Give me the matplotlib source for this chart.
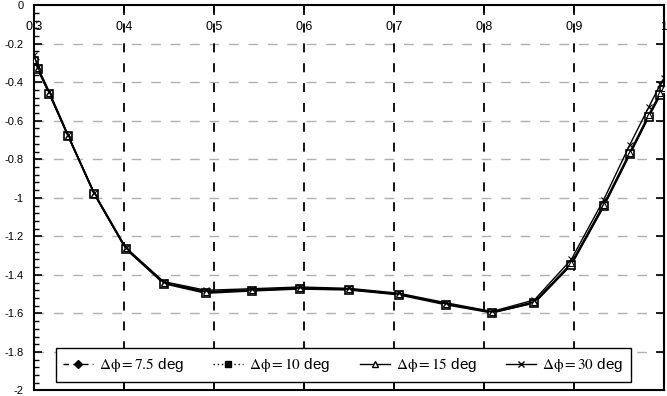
import numpy as np
import matplotlib
matplotlib.use('Agg')
import matplotlib.pyplot as plt
from matplotlib.lines import Line2D
from matplotlib.ticker import MultipleLocator

plt.rcParams['font.family'] = ['Liberation Sans', 'DejaVu Sans']
plt.rcParams['mathtext.fontset'] = 'stix'

# chordwise stations
x = [0.300, 0.304, 0.317, 0.338, 0.367, 0.402, 0.444, 0.491, 0.542, 0.595,
     0.650, 0.705, 0.758, 0.809, 0.856, 0.897, 0.933, 0.962, 0.983, 0.996, 1.000]

# one curve per angular step
y_75 = [-0.29, -0.33, -0.46, -0.68, -0.98, -1.265, -1.44, -1.49, -1.48, -1.47,
        -1.475, -1.50, -1.55, -1.595, -1.545, -1.345, -1.04, -0.77, -0.575, -0.46, -0.44]
y_10 = [-0.29, -0.33, -0.46, -0.68, -0.98, -1.265, -1.445, -1.495, -1.483, -1.473,
        -1.478, -1.503, -1.555, -1.597, -1.545, -1.348, -1.045, -0.775, -0.58, -0.465, -0.44]
y_15 = [-0.285, -0.325, -0.455, -0.68, -0.98, -1.262, -1.44, -1.487, -1.478, -1.468,
        -1.474, -1.50, -1.55, -1.593, -1.54, -1.34, -1.035, -0.765, -0.57, -0.455, -0.43]
y_30 = [-0.26, -0.32, -0.45, -0.675, -0.975, -1.258, -1.435, -1.48, -1.472, -1.463,
        -1.47, -1.495, -1.545, -1.59, -1.53, -1.32, -1.01, -0.725, -0.53, -0.41, -0.38]

labels = [r'$\Delta\mathrm{\phi} = 7.5$ deg', r'$\Delta\mathrm{\phi} = 10$ deg',
          r'$\Delta\mathrm{\phi} = 15$ deg', r'$\Delta\mathrm{\phi} = 30$ deg']

xticks = [0.3, 0.4, 0.5, 0.6, 0.7, 0.8, 0.9, 1.0]
xtick_labels = ['0.3', '0.4', '0.5', '0.6', '0.7', '0.8', '0.9', '1']
yticks = [0, -0.2, -0.4, -0.6, -0.8, -1, -1.2, -1.4, -1.6, -1.8, -2]
ytick_labels = ['0', '-0.2', '-0.4', '-0.6', '-0.8', '-1', '-1.2', '-1.4', '-1.6', '-1.8', '-2']

fig = plt.figure(figsize=(6.67, 3.96), dpi=100, facecolor='w')
ax = fig.add_axes([0.051, 0.014, 0.9445, 0.973])

# grid: grey dashed horizontal, black dashed vertical
for yv in yticks[1:-1]:
    ax.axhline(yv, color='#b0b0b0', lw=1.0, dashes=(7, 7), zorder=1)
for xv in xticks[1:]:
    ax.axvline(xv, color='black', lw=1.3, dashes=(5, 6), zorder=1)

# curves
ax.plot(x, y_75, color='black', lw=1.2, marker='D', ms=3, mfc='white', mec='black', mew=0.8, zorder=3)
ax.plot(x, y_10, color='black', lw=1.2, marker='s', ms=6, mfc='white', mec='black', mew=1.2, zorder=3)
ax.plot(x, y_15, color='black', lw=1.2, marker='^', ms=4, mfc='white', mec='black', mew=0.8, zorder=4)
ax.plot(x, y_30, color='black', lw=1.0, marker='x', ms=5, mec='black', mew=0.8, zorder=4)

ax.set_xlim(0.3, 1.0)
ax.set_ylim(-2, 0)

ax.xaxis.tick_top()
ax.set_xticks(xticks)
ax.set_xticklabels(xtick_labels)
ax.tick_params(axis='x', which='major', direction='in', top=True, bottom=True,
               length=7, width=1.2, pad=-20, labelsize=9)
ax.set_yticks(yticks)
ax.set_yticklabels(ytick_labels)
ax.yaxis.set_minor_locator(MultipleLocator(0.04))
ax.tick_params(axis='y', which='major', direction='in', left=True, right=True,
               length=6, width=1.2, pad=7.5, labelsize=8)
ax.tick_params(axis='y', which='minor', direction='in', left=True, right=False,
               length=3.5, width=1.0)
for sp in ax.spines.values():
    sp.set_linewidth(1.5)

# legend (styles as in the key of the original)
handles = [
    Line2D([], [], color='black', lw=1.0, dashes=(4, 3), marker='D', ms=4, mfc='black'),
    Line2D([], [], color='black', lw=1.0, dashes=(1, 2), marker='s', ms=5, mfc='black'),
    Line2D([], [], color='black', lw=1.0, marker='^', ms=4, mfc='white'),
    Line2D([], [], color='black', lw=1.0, marker='x', ms=5),
]
leg = ax.legend(handles, labels, ncol=4, loc='lower center',
                bbox_to_anchor=(0.491, 0.023),
                borderaxespad=0, fancybox=False, framealpha=1, edgecolor='black',
                fontsize=11, handlelength=1.95, handletextpad=0.4, columnspacing=1.9,
                borderpad=0.5)
leg.get_frame().set_linewidth(1.0)
leg.set_zorder(5)

fig.savefig('out.png', dpi=100)
